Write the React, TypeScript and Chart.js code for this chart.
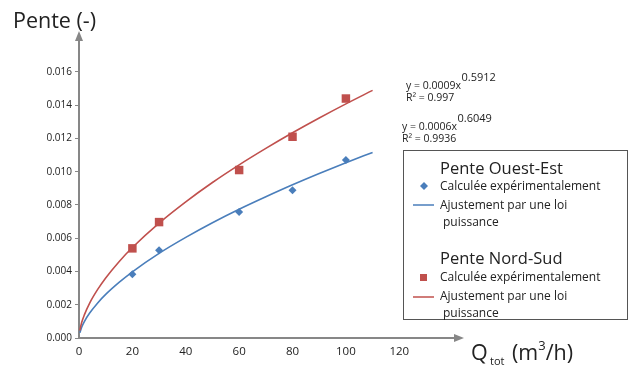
import React, { useEffect, useRef } from "react";
import { Chart, registerables } from "chart.js";

Chart.register(...registerables);

// Experimental points
const debits = [20, 30, 60, 80, 100];
const penteOuestEst = [0.00384, 0.00528, 0.00757, 0.00889, 0.0107];
const penteNordSud = [0.00539, 0.00697, 0.0101, 0.0121, 0.0144];

// Power-law fit curves
const fitX = [0.3, 1, 2, 4, 7, 10, 15, 20, 30, 40, 50, 60, 70, 80, 90, 100, 110];
const fitOuestEst = [0.00031, 0.00065, 0.00099, 0.0015, 0.00211, 0.00262, 0.00334, 0.00398, 0.00509, 0.00605, 0.00693, 0.00774, 0.00849, 0.00921, 0.00989, 0.01054, 0.01116];
const fitNordSud = [0.00045, 0.00093, 0.00139, 0.0021, 0.00292, 0.00361, 0.00459, 0.00544, 0.00691, 0.00819, 0.00935, 0.01041, 0.0114, 0.01234, 0.01323, 0.01408, 0.01489];

const xTicks = [0, 20, 40, 60, 80, 100, 120];
const yTicks = [0, 0.002, 0.004, 0.006, 0.008, 0.01, 0.012, 0.014, 0.016];

const BLUE = "#4a7ebb";
const RED = "#c0504d";
const AXIS = "#878787";
const FONT = "'Open Sans', 'Noto Sans', sans-serif";

const toPts = (xs: number[], ys: number[]) => xs.map((x, i) => ({ x, y: ys[i] }));

const overlay = {
  id: "overlay",
  afterDraw(chart: any) {
    const ctx = chart.ctx as CanvasRenderingContext2D;
    const xs = chart.scales.x;
    const ys = chart.scales.y;
    const ax = xs.left;
    const ay = ys.bottom;
    ctx.save();
    // arrow heads
    ctx.fillStyle = AXIS;
    ctx.beginPath();
    ctx.moveTo(ax, ys.top - 6);
    ctx.lineTo(ax - 4, ys.top + 4);
    ctx.lineTo(ax + 4, ys.top + 4);
    ctx.closePath();
    ctx.fill();
    ctx.beginPath();
    ctx.moveTo(xs.right + 6, ay);
    ctx.lineTo(xs.right - 4, ay - 4);
    ctx.lineTo(xs.right - 4, ay + 4);
    ctx.closePath();
    ctx.fill();

    ctx.fillStyle = "#222";
    ctx.textBaseline = "alphabetic";
    ctx.textAlign = "left";
    // axis titles
    ctx.font = `21.5px ${FONT}`;
    ctx.fillText("Pente (-)", 13, 28);
    ctx.fillText("Q", 471, 360);
    ctx.font = `11px ${FONT}`;
    ctx.fillText("tot", 490, 365);
    ctx.font = `21.5px ${FONT}`;
    ctx.fillText("(m", 512, 360);
    const w1 = ctx.measureText("(m").width;
    ctx.font = `13px ${FONT}`;
    ctx.fillText("3", 512 + w1, 350);
    const w2 = ctx.measureText("3").width;
    ctx.font = `21.5px ${FONT}`;
    ctx.fillText("/h)", 512 + w1 + w2, 360);

    // equations
    const eq = (base: string, sup: string, r2: string, x: number, y: number) => {
      ctx.font = `10.5px ${FONT}`;
      ctx.fillText(base, x, y);
      const w = ctx.measureText(base).width;
      ctx.fillText(r2, x, y + 12);
      ctx.font = `11px ${FONT}`;
      ctx.fillText(sup, x + w + 0.5, y - 8);
    };
    eq("y = 0.0009x", "0.5912", "R² = 0.997", 406, 89);
    eq("y = 0.0006x", "0.6049", "R² = 0.9936", 402, 130);

    // legend box
    ctx.strokeStyle = "#555";
    ctx.lineWidth = 1;
    ctx.strokeRect(403.5, 150.5, 224, 169);
    ctx.fillStyle = "#222";
    ctx.font = `16.5px ${FONT}`;
    ctx.fillText("Pente Ouest-Est", 440, 174);
    ctx.fillText("Pente Nord-Sud", 440, 264);
    ctx.font = `12px ${FONT}`;
    ctx.fillText("Calculée expérimentalement", 440, 190);
    ctx.fillText("Ajustement par une loi", 440, 209);
    ctx.fillText("puissance", 443, 226);
    ctx.fillText("Calculée expérimentalement", 440, 281);
    ctx.fillText("Ajustement par une loi", 440, 300);
    ctx.fillText("puissance", 443, 317);
    // legend markers
    ctx.fillStyle = BLUE;
    ctx.beginPath();
    ctx.moveTo(424, 182);
    ctx.lineTo(428, 186);
    ctx.lineTo(424, 190);
    ctx.lineTo(420, 186);
    ctx.closePath();
    ctx.fill();
    ctx.strokeStyle = BLUE;
    ctx.lineWidth = 1.5;
    ctx.beginPath();
    ctx.moveTo(413, 205);
    ctx.lineTo(434, 205);
    ctx.stroke();
    ctx.fillStyle = RED;
    ctx.fillRect(420, 274, 7, 7);
    ctx.strokeStyle = RED;
    ctx.beginPath();
    ctx.moveTo(413, 297);
    ctx.lineTo(434, 297);
    ctx.stroke();
    ctx.restore();
  },
};

export default function App() {
  const ref = useRef<HTMLCanvasElement>(null);
  useEffect(() => {
    document.body.style.margin = "0";
    const chart = new Chart(ref.current!, {
      type: "scatter",
      data: {
        datasets: [
          {
            type: "line",
            label: "fitNS",
            data: toPts(fitX, fitNordSud),
            borderColor: RED,
            borderWidth: 1.6,
            pointRadius: 0,
            cubicInterpolationMode: "monotone",
          },
          {
            type: "line",
            label: "fitOE",
            data: toPts(fitX, fitOuestEst),
            borderColor: BLUE,
            borderWidth: 1.6,
            pointRadius: 0,
            cubicInterpolationMode: "monotone",
          },
          {
            label: "Pente Ouest-Est",
            data: toPts(debits, penteOuestEst),
            pointStyle: "rectRot",
            pointRadius: 4,
            backgroundColor: BLUE,
            borderColor: BLUE,
            borderWidth: 0,
          },
          {
            label: "Pente Nord-Sud",
            data: toPts(debits, penteNordSud),
            pointStyle: "rect",
            pointRadius: 6,
            backgroundColor: RED,
            borderColor: RED,
            borderWidth: 0,
          },
        ],
      },
      options: {
        animation: false,
        responsive: false,
        layout: { padding: { left: 0, top: 37, right: 172, bottom: 0 } },
        plugins: { legend: { display: false }, tooltip: { enabled: false } },
        scales: {
          x: {
            type: "linear",
            min: 0,
            max: 142,
            afterBuildTicks: (s: any) => {
              s.ticks = xTicks.map((v) => ({ value: v }));
            },
            afterFit: (s: any) => {
              s.height = 29;
            },
            ticks: { color: "#222", font: { size: 11.5, family: FONT }, padding: 7 },
            grid: { drawOnChartArea: false, drawTicks: false },
            border: { color: AXIS, width: 2 },
          },
          y: {
            type: "linear",
            min: 0,
            max: 0.0181,
            afterBuildTicks: (s: any) => {
              s.ticks = yTicks.map((v) => ({ value: v }));
            },
            afterFit: (s: any) => {
              s.width = 79;
            },
            ticks: {
              color: "#222",
              font: { size: 10, family: FONT },
              padding: 3,
              callback: (v: any) => Number(v).toFixed(3),
            },
            grid: { drawOnChartArea: false, drawTicks: true, tickLength: 4, color: AXIS, lineWidth: 1 },
            border: { color: AXIS, width: 2 },
          },
        },
      },
      plugins: [overlay],
    } as any);
    return () => chart.destroy();
  }, []);
  return (
    <div style={{ position: "absolute", left: 0, top: 0, width: 630, height: 367, background: "#fff" }}>
      <canvas ref={ref} width={630} height={367} />
    </div>
  );
}
